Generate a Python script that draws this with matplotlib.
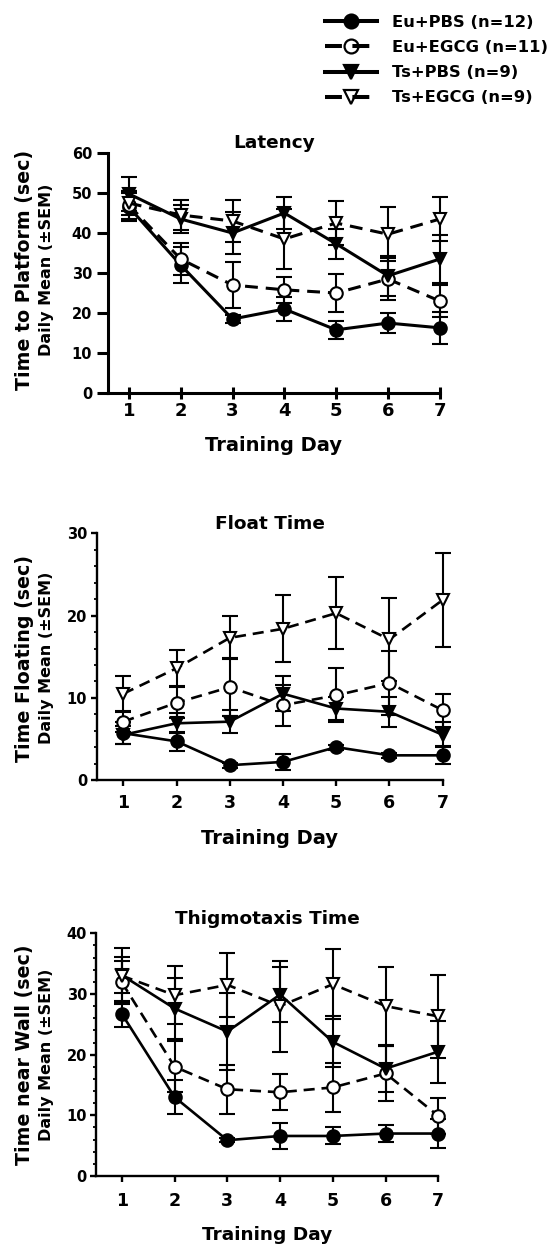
import numpy as np
import matplotlib
matplotlib.use("Agg")
import matplotlib.pyplot as plt
from matplotlib.ticker import MultipleLocator
from matplotlib.lines import Line2D

plt.rcParams['font.family'] = ['DejaVu Sans']
plt.rcParams['font.weight'] = 'bold'

days = [1, 2, 3, 4, 5, 6, 7]
groups = ["Eu+PBS (n=12)", "Eu+EGCG (n=11)", "Ts+PBS (n=9)", "Ts+EGCG (n=9)"]

# Latency
lat_eu_pbs = [46.5, 32.0, 18.5, 21.0, 15.8, 17.5, 16.3]
lat_eu_pbs_sem = [3.5, 4.5, 1.0, 3.0, 2.3, 2.5, 4.0]
lat_eu_egcg = [47.0, 33.5, 27.0, 25.8, 25.0, 28.5, 23.0]
lat_eu_egcg_sem = [3.5, 4.0, 5.7, 3.2, 4.7, 5.3, 4.0]
lat_ts_pbs = [49.8, 43.5, 40.0, 45.0, 37.3, 29.3, 33.5]
lat_ts_pbs_sem = [4.3, 3.6, 5.3, 4.0, 3.7, 5.0, 6.0]
lat_ts_egcg = [47.5, 44.5, 43.0, 38.5, 42.5, 39.7, 43.5]
lat_ts_egcg_sem = [3.0, 3.7, 5.3, 7.5, 5.5, 6.8, 5.5]

# Float time
fl_eu_pbs = [5.7, 4.7, 1.8, 2.2, 4.0, 3.0, 3.0]
fl_eu_pbs_sem = [1.3, 1.2, 0.3, 1.0, 0.3, 0.3, 1.1]
fl_eu_egcg = [7.1, 9.4, 11.3, 9.1, 10.3, 11.8, 8.5]
fl_eu_egcg_sem = [1.3, 1.9, 3.5, 2.5, 3.3, 3.9, 2.0]
fl_ts_pbs = [5.5, 6.9, 7.1, 10.5, 8.7, 8.3, 5.5]
fl_ts_pbs_sem = [1.1, 1.2, 1.4, 2.1, 1.4, 1.8, 1.5]
fl_ts_egcg = [10.5, 13.6, 17.3, 18.4, 20.3, 17.1, 21.9]
fl_ts_egcg_sem = [2.2, 2.2, 2.6, 4.1, 4.4, 5.0, 5.7]

# Thigmotaxis time
th_eu_pbs = [26.7, 13.0, 5.9, 6.6, 6.6, 7.0, 7.0]
th_eu_pbs_sem = [2.2, 2.8, 0.3, 2.2, 1.4, 1.4, 2.4]
th_eu_egcg = [31.9, 18.0, 14.3, 13.8, 14.6, 16.9, 9.9]
th_eu_egcg_sem = [3.5, 4.2, 4.0, 3.0, 4.0, 4.6, 3.0]
th_ts_pbs = [33.1, 27.6, 23.8, 29.9, 22.1, 17.7, 20.5]
th_ts_pbs_sem = [3.0, 5.0, 6.3, 4.6, 4.2, 3.8, 5.1]
th_ts_egcg = [33.0, 29.8, 31.5, 28.0, 31.6, 28.0, 26.3]
th_ts_egcg_sem = [4.5, 4.8, 5.3, 7.5, 5.8, 6.4, 6.8]

tracejado = (0, (4.2, 2.6))
styles = [
    dict(marker='o', mfc='black', ls='-'),
    dict(marker='o', mfc='white', ls=tracejado),
    dict(marker='v', mfc='black', ls='-'),
    dict(marker='v', mfc='white', ls=tracejado),
]


def desenhar_painel(ax, series, sems, titulo, ymax, minor, cfg):
    for val, sem, st in zip(series, sems, styles):
        cont = ax.errorbar(days, val, yerr=sem, color='black', lw=cfg['lw'], ls=st['ls'],
                           marker=st['marker'], ms=9, mfc=st['mfc'], mec='black', mew=1.5,
                           ecolor='black', elinewidth=1.5, capsize=5.5, capthick=1.5)
        for art in cont.get_children():
            art.set_clip_on(False)
    ax.set_ylim(0, ymax)
    ax.set_yticks(np.arange(0, ymax + 1, 10))
    if minor:
        ax.yaxis.set_minor_locator(MultipleLocator(minor))
    ax.set_xticks(days)
    for s in ['top', 'right']:
        ax.spines[s].set_visible(False)
    for s in ['left', 'bottom']:
        ax.spines[s].set_linewidth(cfg['spine'])
    ax.tick_params(axis='y', direction='out', length=cfg['ylen'], width=cfg['spine'],
                   labelsize=10.5, pad=cfg['ypad'])
    ax.tick_params(axis='y', which='minor', direction='out', length=2.3, width=1.3)
    ax.tick_params(axis='x', direction=cfg['xdir'], length=cfg['xlen'], width=cfg['spine'],
                   labelsize=cfg['xsize'], pad=cfg['xpad'])
    ax.set_title(titulo, fontsize=13.3, fontweight='bold', pad=cfg['tpad'])
    ax.set_xlabel("Training Day", fontsize=cfg['lsize'], fontweight='bold')
    ax.xaxis.set_label_coords(0.5, cfg['ly'])


def rotulo_y(texto, yc):
    fig.text(25 / 556, yc, texto, rotation=90, ha='center', va='center',
             fontsize=13.7, fontweight='bold')
    fig.text(47 / 556, yc, "Daily Mean (\u00b1SEM)", rotation=90, ha='center',
             va='center', fontsize=11.5, fontweight='bold')


fig = plt.figure(figsize=(5.56, 12.45), dpi=100)

cfg1 = dict(lw=2.2, spine=2.2, ylen=8, ypad=3.4, xdir='inout', xlen=8, xpad=2.5,
            xsize=13, tpad=3.6, lsize=14, ly=(393 - 436) / 240)
ax1 = fig.add_axes([0.194, 0.6843, 0.597, 0.1928])
desenhar_painel(ax1, [lat_eu_pbs, lat_eu_egcg, lat_ts_pbs, lat_ts_egcg],
                [lat_eu_pbs_sem, lat_eu_egcg_sem, lat_ts_pbs_sem, lat_ts_egcg_sem],
                "Latency", 60, None, cfg1)
ax1.set_xlim(0.595, 7.0)
rotulo_y("Time to Platform (sec)", 1 - 270 / 1245)

cfg2 = dict(lw=1.9, spine=1.7, ylen=4.3, ypad=2.7, xdir='out', xlen=4.5, xpad=5.5,
            xsize=12.5, tpad=0.8, lsize=14, ly=(780 - 829) / 246.7)
ax2 = fig.add_axes([0.174, 0.3735, 0.622, 0.198])
desenhar_painel(ax2, [fl_eu_pbs, fl_eu_egcg, fl_ts_pbs, fl_ts_egcg],
                [fl_eu_pbs_sem, fl_eu_egcg_sem, fl_ts_pbs_sem, fl_ts_egcg_sem],
                "Float Time", 30, 2, cfg2)
ax2.set_xlim(0.5, 7.0)
rotulo_y("Time Floating (sec)", 1 - 658 / 1245)

cfg3 = dict(lw=1.9, spine=1.7, ylen=4.3, ypad=2.2, xdir='out', xlen=4.5, xpad=7,
            xsize=12.5, tpad=6.5, lsize=13.3, ly=(1176 - 1226) / 242.7)
ax3 = fig.add_axes([0.1727, 0.0554, 0.6157, 0.195])
desenhar_painel(ax3, [th_eu_pbs, th_eu_egcg, th_ts_pbs, th_ts_egcg],
                [th_eu_pbs_sem, th_eu_egcg_sem, th_ts_pbs_sem, th_ts_egcg_sem],
                "Thigmotaxis Time", 40, 2, cfg3)
ax3.set_xlim(0.51, 7.0)
rotulo_y("Time near Wall (sec)", 1 - 1055 / 1245)

# legenda: linha desenhada por cima do marcador, como no original
handles = []
for st in styles:
    mk = Line2D([], [], ls='none', marker=st['marker'], ms=10, mfc=st['mfc'],
                mec='black', mew=1.6)
    ln = Line2D([], [], color='black', lw=2.9, ls=st['ls'])
    handles.append((mk, ln))
fig.legend(handles, groups, loc='upper left', bbox_to_anchor=(325 / 556, 1 - 15 / 1245),
           frameon=False, handlelength=3.2, handletextpad=0.9, labelspacing=0.62,
           borderpad=0, borderaxespad=0, prop={'weight': 'bold', 'size': 11.8})

fig.savefig("out.png", dpi=100)
